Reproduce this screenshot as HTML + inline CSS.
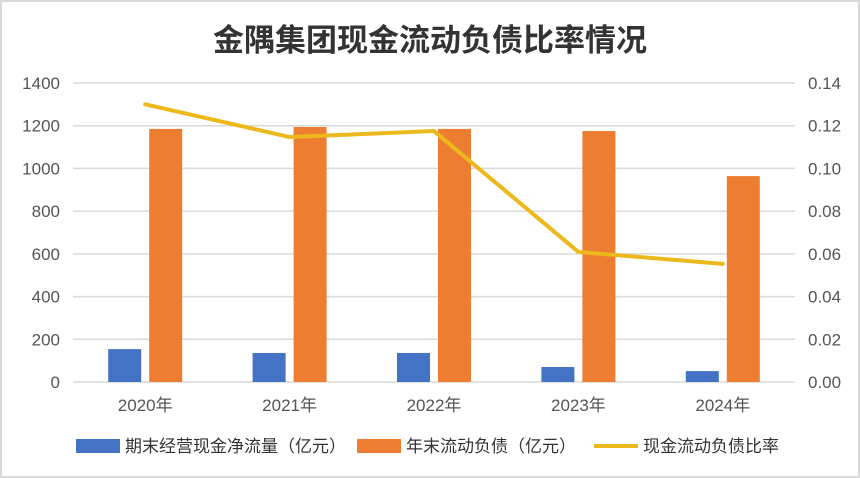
<!DOCTYPE html>
<html><head><meta charset="utf-8"><style>
html,body{margin:0;padding:0;background:#fff;}
svg{display:block;font-family:"Liberation Sans","Noto Sans CJK SC",sans-serif;}
</style></head><body>
<svg id="chart" width="860" height="478" viewBox="0 0 860 478">
<rect x="1" y="1" width="858" height="476" fill="#fff" stroke="#d9d9d9" stroke-width="2"/>
<text x="430" y="51" text-anchor="middle" font-size="31" font-weight="bold" fill="#333">金隅集团现金流动负债比率情况</text>
<g id="grid"></g><g id="bars"></g><g id="line"></g><g id="axes"></g>
<g>
<g><rect x="76" y="439" width="44" height="14" fill="#4472C4"/><text x="125" y="452" font-size="17" fill="#333">期末经营现金净流量（亿元）</text></g>
<g><rect x="357" y="439" width="44" height="14" fill="#ED7D31"/><text x="406" y="452" font-size="17" fill="#333">年末流动负债（亿元）</text></g>
<g><line x1="594" y1="446" x2="638" y2="446" stroke="#EDB81C" stroke-width="4"/><text x="643" y="452" font-size="17" fill="#333">现金流动负债比率</text></g>
</g>
</svg>
<script>
const categories=["2020年","2021年","2022年","2023年","2024年"];
const cashFlow=[154,136,136,70,51];
const liabilities=[1185,1194,1185,1175,964];
const ratio=[0.130,0.1147,0.1175,0.0609,0.0553];
const leftTicks=[0,200,400,600,800,1000,1200,1400];
const rightTicks=["0.00","0.02","0.04","0.06","0.08","0.10","0.12","0.14"];
const NS="http://www.w3.org/2000/svg";
const X0=73,X1=795,Y0=382,Y1=83;
const bw=(X1-X0)/categories.length;
const yL=v=>Y0-(v/1400)*(Y0-Y1);
const yR=v=>Y0-(v/0.14)*(Y0-Y1);
const xC=i=>X0+bw*(i+0.5);
function mk(tag,attrs,parent){const e=document.createElementNS(NS,tag);for(const k in attrs)e.setAttribute(k,attrs[k]);parent.appendChild(e);return e;}
const grid=document.getElementById('grid'),bars=document.getElementById('bars'),line=document.getElementById('line'),axes=document.getElementById('axes');
leftTicks.forEach((t,i)=>{
 const y=yL(t);
 const g=mk('line',{x1:X0,x2:X1,y1:y,y2:y,stroke:'#d9d9d9','stroke-width':1.5},grid);
 
 
 const tl=mk('text',{x:60,y:y+6,'text-anchor':'end','font-size':17,fill:'#555'},axes);tl.textContent=t;
 
 
 const tr=mk('text',{x:808,y:y+6,'font-size':17,fill:'#555'},axes);tr.textContent=rightTicks[i];
 
 
});
categories.forEach((c,i)=>{
 const cx=xC(i);
 const b=mk('rect',{x:cx-37,y:yL(cashFlow[i]),width:33,height:Y0-yL(cashFlow[i]),fill:'#4472C4'},bars);
 
 
 const o=mk('rect',{x:cx+4,y:yL(liabilities[i]),width:33,height:Y0-yL(liabilities[i]),fill:'#ED7D31'},bars);
 
 
 const t=mk('text',{x:cx,y:411,'text-anchor':'middle','font-size':17,fill:'#555'},axes);t.textContent=c;
 
 
});
const pl=mk('polyline',{points:ratio.map((v,i)=>xC(i)+','+yR(v)).join(' '),fill:'none',stroke:'#EDB81C','stroke-width':4,'stroke-linejoin':'round','stroke-linecap':'round'},line);


</script>
</body></html>
